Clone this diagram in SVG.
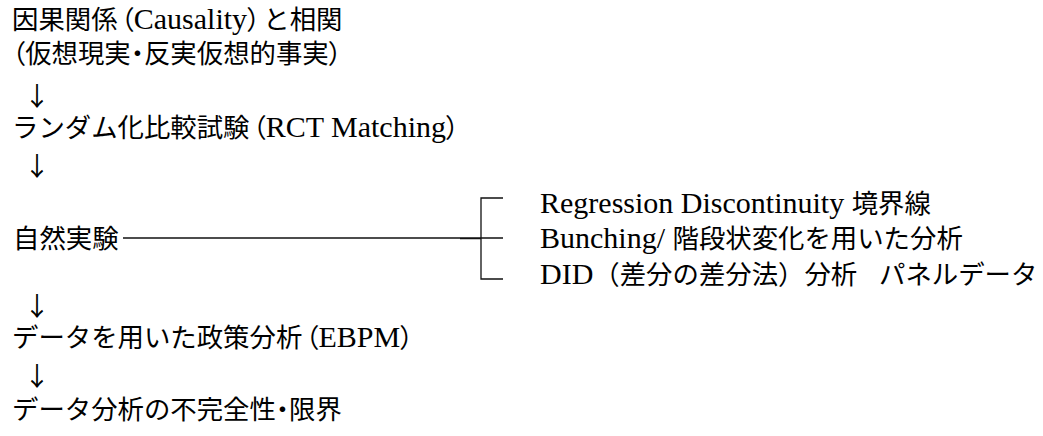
<svg xmlns="http://www.w3.org/2000/svg" width="1043" height="436" viewBox="0 0 1043 436">
<style>
text { font-family: "Liberation Serif", "Noto Sans CJK JP", serif; font-size: 30px; fill: #000; }
.j { font-family: "Noto Sans CJK JP", sans-serif; font-size: 26.4px; }
.p { font-family: "Noto Sans CJK JP", sans-serif; font-size: 26.4px; font-feature-settings: "palt"; }
.a { font-family: "Noto Sans CJK JP", sans-serif; font-size: 26px; }
.ln { stroke: #111; stroke-width: 1.3; fill: none; }
</style>
<rect width="1043" height="436" fill="#fff"/>
<g id="n1"><text x="12" y="29"><tspan class="j">因果関係</tspan><tspan class="p" dx="3">（</tspan>Causality<tspan class="p">）</tspan><tspan class="j" dx="3">と相関</tspan></text></g>
<g id="n2"><text x="12" y="63"><tspan class="p">（</tspan><tspan class="j">仮想現実</tspan><tspan class="p">・</tspan><tspan class="j">反実仮想的事実</tspan><tspan class="p">）</tspan></text></g>
<g id="n3"><text x="12" y="137"><tspan class="j">ランダム化比較試験</tspan><tspan class="p" dx="3">（</tspan>RCT Matching<tspan class="p">）</tspan></text></g>
<g id="n4"><text x="13" y="248" class="j">自然実験</text></g>
<g id="n5"><text x="540" y="213">Regression Discontinuity <tspan class="j">境界線</tspan></text></g>
<g id="n6"><text x="540" y="248">Bunching/ <tspan class="j">階段状変化を用いた分析</tspan></text></g>
<g id="n7"><text x="540" y="284">DID<tspan class="j">（差分の差分法）分析</tspan><tspan class="j" x="879">パネルデータ</tspan></text></g>
<g id="n8"><text x="12" y="347"><tspan class="j">データを用いた政策分析</tspan><tspan class="p" dx="3">（</tspan>EBPM<tspan class="p">）</tspan></text></g>
<g id="n9"><text x="12" y="419"><tspan class="j">データ分析の不完全性</tspan><tspan class="p">・</tspan><tspan class="j">限界</tspan></text></g>
<g id="connectors">
<text class="a" x="37" y="106" text-anchor="middle">↓</text>
<text class="a" x="37" y="176" text-anchor="middle">↓</text>
<text class="a" x="37" y="316" text-anchor="middle">↓</text>
<text class="a" x="37" y="386" text-anchor="middle">↓</text>
<path class="ln" d="M123,238 H481"/>
<path class="ln" d="M460,238.6 H481" stroke-width="1.6"/>
<path class="ln" d="M503,198 H481 V279 H503 M481,238 H503"/>
</g>
</svg>
